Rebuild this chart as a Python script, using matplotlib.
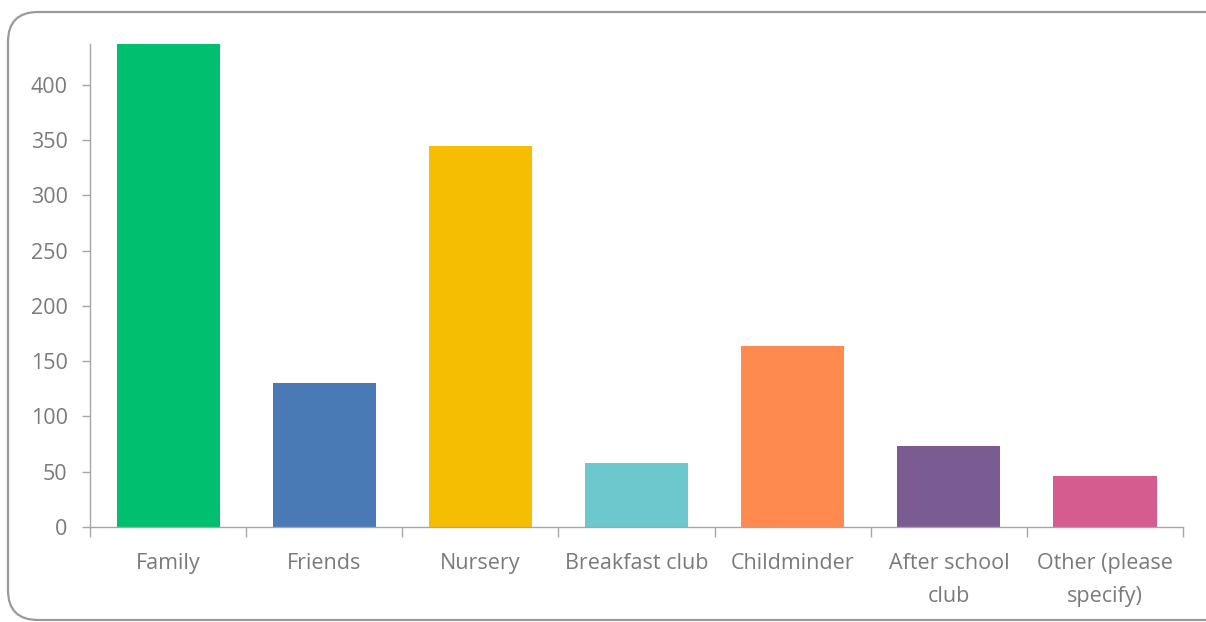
import matplotlib

matplotlib.use("Agg")
import matplotlib.pyplot as plt
from matplotlib.patches import FancyBboxPatch
from matplotlib.transforms import IdentityTransform
import numpy as np

categories = ["Family", "Friends", "Nursery", "Breakfast club", "Childminder",
              "After school\nclub", "Other (please\nspecify)"]
values = [437, 130, 345, 58, 164, 73, 46]
colors = ["#00BF6F", "#4A7AB5", "#F6BE00", "#6CC8CC", "#FF8A4F", "#7B5C92", "#D45C8E"]
yticks = [0, 50, 100, 150, 200, 250, 300, 350, 400]

plt.rcParams["font.family"] = ["Open Sans", "DejaVu Sans"]
grey = "#7a7a7a"
axis_grey = "#a6a6a6"

fig = plt.figure(figsize=(12.06, 6.22), dpi=100)
ax = fig.add_axes([0.0746, 0.1527, 0.9064, 0.7766])

x = np.arange(len(categories))
ax.bar(x, values, width=0.66, color=colors, zorder=2)

ax.set_xlim(-0.5, len(categories) - 0.5)
ax.set_ylim(0, 437)
ax.set_yticks(yticks)
ax.set_xticks(x)
ax.set_xticklabels(categories, fontsize=15.5, color=grey, linespacing=1.75)
ax.set_xticks(np.arange(len(categories) + 1) - 0.5, minor=True)
ax.tick_params(axis="x", which="major", length=0, pad=19)
ax.tick_params(axis="x", which="minor", length=7, color=axis_grey, width=1)
ax.tick_params(axis="y", length=6, color=axis_grey, width=1, labelsize=15.5,
               labelcolor=grey, pad=10)

for s in ["top", "right"]:
    ax.spines[s].set_visible(False)
for s in ["left", "bottom"]:
    ax.spines[s].set_color(axis_grey)
    ax.spines[s].set_linewidth(1)

frame = FancyBboxPatch((8, 2), 1230, 608,
                       boxstyle="round,pad=0,rounding_size=30",
                       transform=IdentityTransform(), facecolor="none",
                       edgecolor="#9a9a9a", linewidth=1.6)
fig.add_artist(frame)

fig.savefig("out.png", dpi=100)
